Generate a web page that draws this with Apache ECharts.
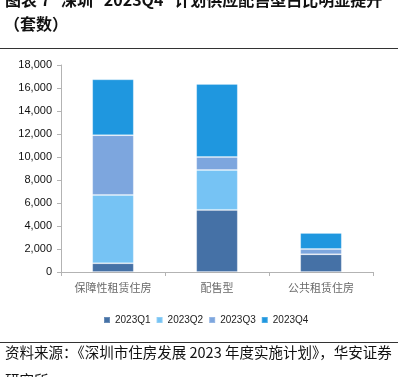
<!DOCTYPE html>
<html>
<head>
<meta charset="utf-8">
<script src="https://cdn.jsdelivr.net/npm/echarts@6/dist/echarts.min.js"></script>
<style>
  html, body { margin: 0; padding: 0; background: #fff; }
  #chart { width: 411px; height: 377px; }
</style>
</head>
<body>
<div id="chart"></div>
<script>
// 数据：各类住房按季度计划供应套数
const categories = ['保障性租赁住房', '配售型', '公共租赁住房'];
const quarters = ['2023Q1', '2023Q2', '2023Q3', '2023Q4'];
const q1 = [760, 5400, 1540];
const q2 = [5940, 3470, 0];
const q3 = [5200, 1130, 460];
const q4 = [4850, 6350, 1400];
const yTicks = [0, 2000, 4000, 6000, 8000, 10000, 12000, 14000, 16000, 18000];

const colors = ['#4571a6', '#76c3f4', '#7da6de', '#1f97df'];
const cjk = '"Noto Sans CJK SC", sans-serif';
const latin = '"Liberation Sans", Arial, sans-serif';

const chart = echarts.init(document.getElementById('chart'));

const seriesData = [q1, q2, q3, q4];

const option = {
  animation: false,
  color: colors,
  graphic: [
    {
      type: 'text', left: 5, top: -8,
      style: {
        text: '图表 7   深圳   2023Q4   计划供应配售型占比明显提升',
        font: 'bold 16px ' + cjk, fill: '#111'
      }
    },
    {
      type: 'text', left: 4, top: 16,
      style: { text: '（套数）', font: 'bold 16px ' + cjk, fill: '#111' }
    },
    {
      type: 'line', shape: { x1: 0, y1: 48.5, x2: 398, y2: 48.5 },
      style: { stroke: '#333', lineWidth: 1 }
    },
    {
      type: 'line', shape: { x1: 0, y1: 342.5, x2: 398, y2: 342.5 },
      style: { stroke: '#333', lineWidth: 1 }
    },
    {
      type: 'text', left: 5, top: 345,
      style: {
        text: '资料来源：《深圳市住房发展 2023 年度实施计划》，华安证券',
        font: '14.5px ' + cjk, fill: '#111'
      }
    },
    {
      type: 'text', left: 5, top: 373,
      style: { text: '研究所', font: '14.5px ' + cjk, fill: '#111' }
    }
  ],
  legend: {
    data: quarters,
    left: 98,
    top: 310,
    itemWidth: 6,
    itemHeight: 6,
    itemGap: 5,
    icon: 'rect',
    textStyle: { fontSize: 10, fontFamily: latin, color: '#222' }
  },
  grid: { left: 61, right: 38, top: 65, bottom: 105 },
  xAxis: {
    type: 'category',
    data: categories,
    axisLine: { lineStyle: { color: '#b3b3b3', width: 1 } },
    axisTick: { show: true, length: 4, lineStyle: { color: '#b3b3b3' } },
    axisLabel: { fontSize: 11, fontFamily: cjk, color: '#6a6a6a', margin: 10 }
  },
  yAxis: {
    type: 'value',
    min: yTicks[0],
    max: yTicks[yTicks.length - 1],
    interval: yTicks[1] - yTicks[0],
    splitLine: { show: false },
    axisLine: { show: true, lineStyle: { color: '#b3b3b3' } },
    axisTick: { show: true, length: 4, lineStyle: { color: '#b3b3b3' } },
    axisLabel: {
      fontSize: 11, fontFamily: latin, color: '#111', margin: 9,
      formatter: v => v.toLocaleString('en-US')
    }
  },
  series: quarters.map((name, i) => ({
    name,
    type: 'bar',
    stack: 'total',
    barWidth: '40%',
    data: seriesData[i],
    itemStyle: { borderColor: 'rgba(255,255,255,0.2)', borderWidth: 1 }
  }))
};

chart.setOption(option);
</script>
</body>
</html>
